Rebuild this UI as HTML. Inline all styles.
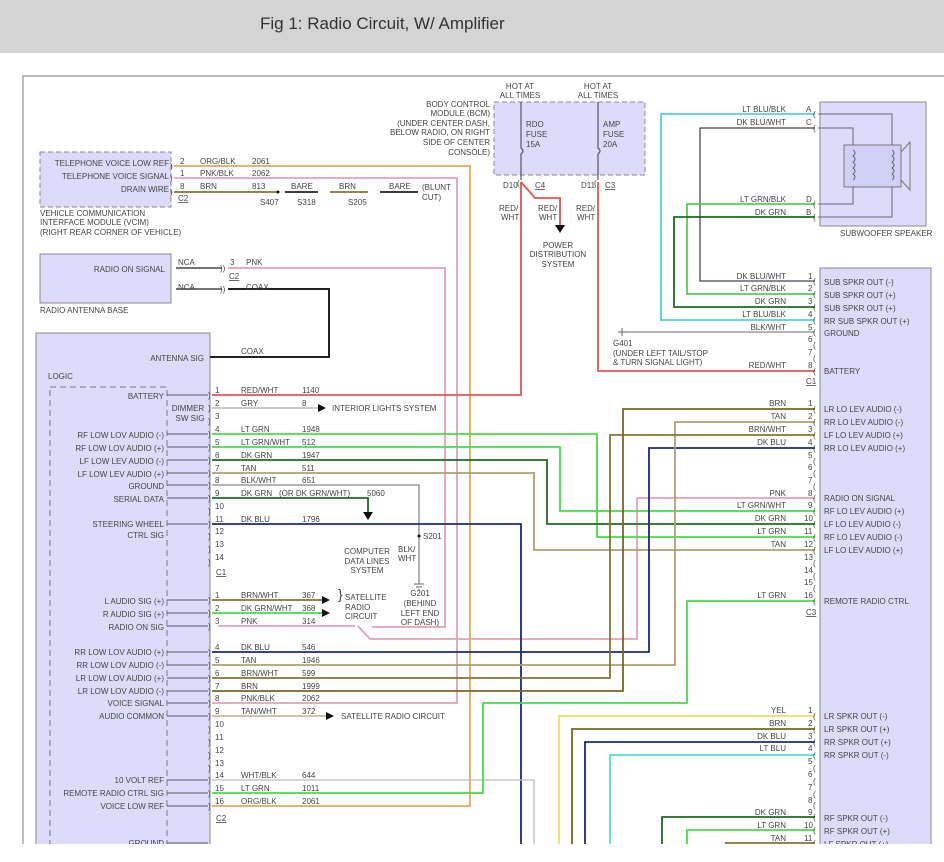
<!DOCTYPE html>
<html><head><meta charset="utf-8"><style>
html,body{margin:0;padding:0;background:#fff;width:944px;height:862px;overflow:hidden}
svg{display:block}
text{font-family:"Liberation Sans",sans-serif;font-size:8px;fill:#444}
.r{text-anchor:end}.m{text-anchor:middle}
.cj{font-size:9px;fill:#556}
</style></head><body>
<svg width="944" height="862" viewBox="0 0 944 862" xmlns="http://www.w3.org/2000/svg">
<defs><clipPath id="cl"><rect x="0" y="0" width="944" height="844"/></clipPath></defs>
<rect x="0" y="0" width="944" height="53" fill="#d4d4d4"/>
<text x="260" y="29" style="font-size:17px;fill:#333">Fig 1: Radio Circuit, W/ Amplifier</text>
<g clip-path="url(#cl)">
<path d="M23 844V76H944" fill="none" stroke="#999" stroke-width="1.3"/>

<rect x="40" y="152" width="131" height="55" fill="#dcdcfa" stroke="#888" stroke-dasharray="5,3"/>
<rect x="40" y="254" width="131" height="49" fill="#dcdcfa" stroke="#888"/>
<rect x="36" y="333" width="174" height="530" fill="#dcdcfa" stroke="#888"/>
<path d="M50 390V860M167 390V860M50 387H167" fill="none" stroke="#777" stroke-dasharray="6,4"/>
<rect x="494" y="102" width="151" height="73" fill="#dcdcfa" stroke="#888" stroke-dasharray="5,3"/>
<rect x="820" y="102" width="106" height="124" fill="#dcdcfa" stroke="#888"/>
<rect x="844" y="145" width="57" height="42" fill="#d0d0f6" stroke="#777"/>
<path d="M901 152L910 142V190L901 180" fill="none" stroke="#777"/>
<rect x="820" y="268" width="111" height="600" fill="#dcdcfa" stroke="#888"/>

<g fill="none" stroke="#667" stroke-width="1">
<path d="M818 114H892V145M818 128H853V145M853 187V204H818M892 187V217H818"/>
<path d="M853 150q4 3 0 6q4 3 0 6q4 3 0 6q4 3 0 6q4 3 0 6M892 150q4 3 0 6q4 3 0 6q4 3 0 6q4 3 0 6q4 3 0 6"/>
</g>
<text x="840" y="236">SUBWOOFER SPEAKER</text>

<g fill="none" stroke="#556" stroke-width="1.2">
<path d="M521 102V148q4 3 0 6V180M598 102V148q4 3 0 6V180"/>
</g>
<text x="526" y="127">RDO</text><text x="526" y="137">FUSE</text><text x="526" y="147">15A</text>
<text x="603" y="127">AMP</text><text x="603" y="137">FUSE</text><text x="603" y="147">20A</text>
<text class="m" x="520" y="89">HOT AT</text><text class="m" x="520" y="98">ALL TIMES</text>
<text class="m" x="598" y="89">HOT AT</text><text class="m" x="598" y="98">ALL TIMES</text>
<text class="r" x="490" y="107">BODY CONTROL</text><text class="r" x="490" y="116">MODULE (BCM)</text>
<text class="r" x="490" y="126">(UNDER CENTER DASH,</text><text class="r" x="490" y="135">BELOW RADIO, ON RIGHT</text>
<text class="r" x="490" y="145">SIDE OF CENTER</text><text class="r" x="490" y="155">CONSOLE)</text>
<text x="503" y="188">D10</text><text x="535" y="188" style="text-decoration:underline">C4</text>
<text x="581" y="188">D11</text><text x="605" y="188" style="text-decoration:underline">C3</text>
<text x="499" y="211">RED/</text><text x="501" y="220">WHT</text>
<text x="538" y="211">RED/</text><text x="539" y="220">WHT</text>
<text x="576" y="211">RED/</text><text x="577" y="220">WHT</text>
<text class="m" x="558" y="248">POWER</text><text class="m" x="558" y="257">DISTRIBUTION</text><text class="m" x="558" y="267">SYSTEM</text>

<g fill="none" stroke-width="1.8">
<path d="M174 166H470V806H212" stroke="#e0a860"/>
<path d="M174 178H457V703H212" stroke="#e8a0b0"/>
<path d="M174 192H278M330 192H368" stroke="#8a7230"/>
<path d="M285 192H318M380 192H418" stroke="#222"/>
<path d="M228 268H445V627H372M370 639H637V498H815M218 626H355M358 626L370 639" stroke="#e8a0b0"/>
<path d="M176 268H222M176 289H222" stroke="#222" stroke-width="1.3"/>
<path d="M228 289H329V357H210" stroke="#222" stroke-width="2"/>
<path d="M521 182V395H212" stroke="#e05555"/>
<path d="M598 182V371H815" stroke="#e05555"/>
<path d="M521 182L535 198H560V225" stroke="#e05555"/>
<path d="M212 408H318" stroke="#aaa" stroke-width="1.3"/>
<path d="M212 434H597V537H815" stroke="#44dd44"/>
<path d="M212 447H560V511H815" stroke="#44dd44"/>
<path d="M212 460H547V524H815" stroke="#1f6a1f"/>
<path d="M212 473H534V550H815" stroke="#b0a070"/>
<path d="M212 485H419V578" stroke="#888" stroke-width="1.3"/>
<path d="M212 498H368V512" stroke="#1f6a1f"/>
<path d="M212 524H521V850" stroke="#1a2a7a"/>
<path d="M212 600H322" stroke="#8a7230"/>
<path d="M212 613H322" stroke="#44dd44"/>
<path d="M212 652H649V448H815" stroke="#1a2a7a"/>
<path d="M212 665H675V422H815" stroke="#b0a070"/>
<path d="M212 678H610V435H815" stroke="#8a7230"/>
<path d="M212 691H623V409H815" stroke="#7a6420"/>
<path d="M212 716H326" stroke="#b0a070" stroke-width="1.3"/>
<path d="M212 780H534V850" stroke="#bbb" stroke-width="1.3"/>
<path d="M212 793H483V703H687V601H815" stroke="#44dd44"/>
<path d="M815 114H661V320H815" stroke="#55d0d0"/>
<path d="M815 128H700V281H815" stroke="#445" stroke-width="1.3"/>
<path d="M815 204H687V294H815" stroke="#55cc55"/>
<path d="M815 217H674V307H815" stroke="#1f6a1f"/>
<path d="M625 332H815" stroke="#888" stroke-width="1.3"/>
<path d="M815 716H559V850" stroke="#f0e060"/>
<path d="M815 729H572V850" stroke="#7a6420"/>
<path d="M815 742H585V850" stroke="#1a2a7a"/>
<path d="M815 755H610V850" stroke="#55dddd"/>
<path d="M815 817H662V850" stroke="#1f6a1f"/>
<path d="M815 830H687V850" stroke="#44dd44"/>
<path d="M815 843H725" stroke="#8a7230"/>
</g>
<g fill="#111">
<path d="M555 225H565L560 233Z"/>
<path d="M318 404V412L326 408Z"/>
<path d="M363 512H373L368 520Z"/>
<path d="M322 596V604L330 600Z"/><path d="M322 609V617L330 613Z"/>
<path d="M326 712V720L334 716Z"/>
</g>
<circle cx="278" cy="192" r="1.5" fill="#111"/><circle cx="419" cy="536" r="1.5" fill="#111"/>
<path d="M419 578V584M414 584H424M416 587H422M418 590H420" stroke="#666"/>
<path d="M622 328V336M618 332H626" stroke="#666"/>

<!-- connector glyphs -->
<g class="cj">
<text x="170" y="169">)</text><text x="170" y="181">)</text><text x="170" y="195">)</text>
<text x="220" y="271">))</text><text x="220" y="292">))</text>
<text x="517" y="186">(</text><text x="594" y="186">(</text>
<text x="208" y="398">)</text><text x="208" y="411">)</text><text x="208" y="424">)</text><text x="208" y="437">)</text><text x="208" y="450">)</text><text x="208" y="463">)</text><text x="208" y="476">)</text><text x="208" y="488">)</text><text x="208" y="501">)</text><text x="208" y="514">)</text><text x="208" y="527">)</text><text x="208" y="539">)</text><text x="208" y="552">)</text><text x="208" y="565">)</text>
<text x="208" y="603">)</text><text x="208" y="616">)</text><text x="208" y="629">)</text><text x="208" y="655">)</text><text x="208" y="668">)</text><text x="208" y="681">)</text><text x="208" y="694">)</text><text x="208" y="706">)</text><text x="208" y="719">)</text><text x="208" y="732">)</text><text x="208" y="745">)</text><text x="208" y="758">)</text><text x="208" y="771">)</text><text x="208" y="783">)</text><text x="208" y="796">)</text><text x="208" y="809">)</text>
<text x="813" y="117">(</text><text x="813" y="131">(</text><text x="813" y="207">(</text><text x="813" y="220">(</text>
<text x="813" y="284">(</text><text x="813" y="297">(</text><text x="813" y="310">(</text><text x="813" y="323">(</text><text x="813" y="335">(</text><text x="813" y="348">(</text><text x="813" y="361">(</text><text x="813" y="374">(</text>
<text x="813" y="412">(</text><text x="813" y="425">(</text><text x="813" y="438">(</text><text x="813" y="451">(</text><text x="813" y="464">(</text><text x="813" y="476">(</text><text x="813" y="489">(</text><text x="813" y="501">(</text><text x="813" y="514">(</text><text x="813" y="527">(</text><text x="813" y="540">(</text><text x="813" y="553">(</text><text x="813" y="566">(</text><text x="813" y="579">(</text><text x="813" y="591">(</text><text x="813" y="604">(</text>
<text x="813" y="719">(</text><text x="813" y="732">(</text><text x="813" y="745">(</text><text x="813" y="758">(</text><text x="813" y="771">(</text><text x="813" y="784">(</text><text x="813" y="797">(</text><text x="813" y="808">(</text><text x="813" y="820">(</text><text x="813" y="833">(</text><text x="813" y="846">(</text>
</g>

<text x="260" y="205">S407</text><text x="297" y="205">S318</text><text x="348" y="205">S205</text>
<text x="291" y="189">BARE</text><text x="339" y="189">BRN</text><text x="389" y="189">BARE</text>
<text x="422" y="190">(BLUNT</text><text x="422" y="200">CUT)</text>
<text x="180" y="164">2</text><text x="200" y="164">ORG/BLK</text><text x="252" y="164">2061</text>
<text x="180" y="176">1</text><text x="200" y="176">PNK/BLK</text><text x="252" y="176">2062</text>
<text x="180" y="189">8</text><text x="200" y="189">BRN</text><text x="252" y="189">813</text>
<text x="178" y="201" style="text-decoration:underline">C2</text>
<text class="r" x="169" y="166">TELEPHONE VOICE LOW REF</text>
<text class="r" x="169" y="179">TELEPHONE VOICE SIGNAL</text>
<text class="r" x="169" y="192">DRAIN WIRE</text>
<text x="40" y="216">VEHICLE COMMUNICATION</text><text x="40" y="225">INTERFACE MODULE (VCIM)</text><text x="40" y="235">(RIGHT REAR CORNER OF VEHICLE)</text>
<text class="r" x="165" y="272">RADIO ON SIGNAL</text>
<text x="178" y="265">NCA</text><text x="178" y="290">NCA</text>
<text x="230" y="265">3</text><text x="246" y="265">PNK</text>
<text x="229" y="279" style="text-decoration:underline">C2</text>
<text x="246" y="290">COAX</text><text x="241" y="354">COAX</text>
<text x="40" y="313">RADIO ANTENNA BASE</text>
<text class="r" x="204" y="361">ANTENNA SIG</text>
<text x="48" y="379">LOGIC</text>

<g>
<text class="r" x="164" y="399">BATTERY</text>
<text class="m" x="188" y="411">DIMMER</text><text class="m" x="190" y="421">SW SIG</text>
<text class="r" x="164" y="438">RF LOW LOV AUDIO (-)</text>
<text class="r" x="164" y="451">RF LOW LOV AUDIO (+)</text>
<text class="r" x="164" y="464">LF LOW LEV AUDIO (-)</text>
<text class="r" x="164" y="477">LF LOW LEV AUDIO (+)</text>
<text class="r" x="164" y="489">GROUND</text>
<text class="r" x="164" y="502">SERIAL DATA</text>
<text class="r" x="164" y="527">STEERING WHEEL</text>
<text class="r" x="164" y="538">CTRL SIG</text>
<text class="r" x="164" y="604">L AUDIO SIG (+)</text>
<text class="r" x="164" y="617">R AUDIO SIG (+)</text>
<text class="r" x="164" y="630">RADIO ON SIG</text>
<text class="r" x="164" y="655">RR LOW LOV AUDIO (+)</text>
<text class="r" x="164" y="668">RR LOW LOV AUDIO (-)</text>
<text class="r" x="164" y="681">LR LOW LOV AUDIO (+)</text>
<text class="r" x="164" y="694">LR LOW LOV AUDIO (-)</text>
<text class="r" x="164" y="706">VOICE SIGNAL</text>
<text class="r" x="164" y="719">AUDIO COMMON</text>
<text class="r" x="164" y="783">10 VOLT REF</text>
<text class="r" x="164" y="796">REMOTE RADIO CTRL SIG</text>
<text class="r" x="164" y="809">VOICE LOW REF</text>
<text class="r" x="164" y="846">GROUND</text>
</g>
<g stroke="#556" stroke-width="1">
<path d="M167 395H208M167 434H208M167 447H208M167 460H208M167 473H208M167 485H208M167 498H208M167 524H208M167 600H208M167 613H208M167 626H208M167 652H208M167 665H208M167 678H208M167 691H208M167 703H208M167 716H208M167 780H208M167 793H208M167 806H208M167 843H208"/>
</g>
<g>
<text x="215" y="393">1</text><text x="241" y="393">RED/WHT</text><text x="302" y="393">1140</text>
<text x="215" y="406">2</text><text x="241" y="406">GRY</text><text x="302" y="406">8</text>
<text x="332" y="411">INTERIOR LIGHTS SYSTEM</text>
<text x="215" y="419">3</text>
<text x="215" y="432">4</text><text x="241" y="432">LT GRN</text><text x="302" y="432">1948</text>
<text x="215" y="445">5</text><text x="241" y="445">LT GRN/WHT</text><text x="302" y="445">512</text>
<text x="215" y="458">6</text><text x="241" y="458">DK GRN</text><text x="302" y="458">1947</text>
<text x="215" y="471">7</text><text x="241" y="471">TAN</text><text x="302" y="471">511</text>
<text x="215" y="483">8</text><text x="241" y="483">BLK/WHT</text><text x="302" y="483">651</text>
<text x="215" y="496">9</text><text x="241" y="496">DK GRN</text><text x="279" y="496">(OR DK GRN/WHT)</text><text x="367" y="496">5060</text>
<text x="215" y="509">10</text>
<text x="215" y="522">11</text><text x="241" y="522">DK BLU</text><text x="302" y="522">1796</text>
<text x="215" y="534">12</text><text x="215" y="547">13</text><text x="215" y="560">14</text>
<text x="216" y="575" style="text-decoration:underline">C1</text>
<text class="m" x="367" y="554">COMPUTER</text><text class="m" x="367" y="564">DATA LINES</text><text class="m" x="367" y="573">SYSTEM</text>
<text x="423" y="539">S201</text>
<text x="398" y="552">BLK/</text><text x="398" y="561">WHT</text>
<text class="m" x="420" y="596">G201</text><text class="m" x="420" y="606">(BEHIND</text><text class="m" x="420" y="616">LEFT END</text><text class="m" x="420" y="625">OF DASH)</text>
<text x="215" y="598">1</text><text x="241" y="598">BRN/WHT</text><text x="302" y="598">367</text>
<text x="215" y="611">2</text><text x="241" y="611">DK GRN/WHT</text><text x="302" y="611">368</text>
<text x="215" y="624">3</text><text x="241" y="624">PNK</text><text x="302" y="624">314</text>
<text x="338" y="599" style="font-size:14px">}</text>
<text x="345" y="600">SATELLITE</text><text x="345" y="610">RADIO</text><text x="345" y="619">CIRCUIT</text>
<text x="215" y="650">4</text><text x="241" y="650">DK BLU</text><text x="302" y="650">546</text>
<text x="215" y="663">5</text><text x="241" y="663">TAN</text><text x="302" y="663">1946</text>
<text x="215" y="676">6</text><text x="241" y="676">BRN/WHT</text><text x="302" y="676">599</text>
<text x="215" y="689">7</text><text x="241" y="689">BRN</text><text x="302" y="689">1999</text>
<text x="215" y="701">8</text><text x="241" y="701">PNK/BLK</text><text x="302" y="701">2062</text>
<text x="215" y="714">9</text><text x="241" y="714">TAN/WHT</text><text x="302" y="714">372</text>
<text x="341" y="719">SATELLITE RADIO CIRCUIT</text>
<text x="215" y="727">10</text><text x="215" y="740">11</text><text x="215" y="753">12</text><text x="215" y="766">13</text>
<text x="215" y="778">14</text><text x="241" y="778">WHT/BLK</text><text x="302" y="778">644</text>
<text x="215" y="791">15</text><text x="241" y="791">LT GRN</text><text x="302" y="791">1011</text>
<text x="215" y="804">16</text><text x="241" y="804">ORG/BLK</text><text x="302" y="804">2061</text>
<text x="216" y="821" style="text-decoration:underline">C2</text>
</g>

<g>
<text class="r" x="786" y="112">LT BLU/BLK</text><text x="806" y="112">A</text>
<text class="r" x="786" y="125">DK BLU/WHT</text><text x="806" y="125">C</text>
<text class="r" x="786" y="202">LT GRN/BLK</text><text x="806" y="202">D</text>
<text class="r" x="786" y="215">DK GRN</text><text x="806" y="215">B</text>
<text class="r" x="786" y="279">DK BLU/WHT</text><text x="808" y="279">1</text>
<text class="r" x="786" y="291">LT GRN/BLK</text><text x="808" y="291">2</text>
<text class="r" x="786" y="304">DK GRN</text><text x="808" y="304">3</text>
<text class="r" x="786" y="317">LT BLU/BLK</text><text x="808" y="317">4</text>
<text class="r" x="786" y="330">BLK/WHT</text><text x="808" y="330">5</text>
<text x="808" y="342">6</text><text x="808" y="355">7</text>
<text class="r" x="786" y="368">RED/WHT</text><text x="808" y="368">8</text>
<text x="806" y="384" style="text-decoration:underline">C1</text>
<text x="824" y="285">SUB SPKR OUT (-)</text>
<text x="824" y="298">SUB SPKR OUT (+)</text>
<text x="824" y="311">SUB SPKR OUT (+)</text>
<text x="824" y="324">RR SUB SPKR OUT (+)</text>
<text x="824" y="336">GROUND</text>
<text x="824" y="374">BATTERY</text>
<text x="613" y="346">G401</text><text x="613" y="356">(UNDER LEFT TAIL/STOP</text><text x="613" y="365">&amp; TURN SIGNAL LIGHT)</text>

<text class="r" x="786" y="406">BRN</text><text x="808" y="406">1</text>
<text class="r" x="786" y="419">TAN</text><text x="808" y="419">2</text>
<text class="r" x="786" y="432">BRN/WHT</text><text x="808" y="432">3</text>
<text class="r" x="786" y="445">DK BLU</text><text x="808" y="445">4</text>
<text x="808" y="458">5</text><text x="808" y="470">6</text><text x="808" y="483">7</text>
<text class="r" x="786" y="496">PNK</text><text x="808" y="496">8</text>
<text class="r" x="786" y="508">LT GRN/WHT</text><text x="808" y="508">9</text>
<text class="r" x="786" y="521">DK GRN</text><text x="804" y="521">10</text>
<text class="r" x="786" y="534">LT GRN</text><text x="804" y="534">11</text>
<text class="r" x="786" y="547">TAN</text><text x="804" y="547">12</text>
<text x="804" y="560">13</text><text x="804" y="573">14</text><text x="804" y="585">15</text>
<text class="r" x="786" y="598">LT GRN</text><text x="804" y="598">16</text>
<text x="806" y="615" style="text-decoration:underline">C3</text>
<text x="824" y="412">LR LO LEV AUDIO (-)</text>
<text x="824" y="425">RR LO LEV AUDIO (-)</text>
<text x="824" y="438">LF LO LEV AUDIO (+)</text>
<text x="824" y="451">RR LO LEV AUDIO (+)</text>
<text x="824" y="501">RADIO ON SIGNAL</text>
<text x="824" y="514">RF LO LEV AUDIO (+)</text>
<text x="824" y="527">LF LO LEV AUDIO (-)</text>
<text x="824" y="540">RF LO LEV AUDIO (-)</text>
<text x="824" y="553">LF LO LEV AUDIO (+)</text>
<text x="824" y="604">REMOTE RADIO CTRL</text>

<text class="r" x="786" y="713">YEL</text><text x="808" y="713">1</text>
<text class="r" x="786" y="726">BRN</text><text x="808" y="726">2</text>
<text class="r" x="786" y="739">DK BLU</text><text x="808" y="739">3</text>
<text class="r" x="786" y="751">LT BLU</text><text x="808" y="751">4</text>
<text x="808" y="764">5</text><text x="808" y="777">6</text><text x="808" y="790">7</text><text x="808" y="803">8</text>
<text class="r" x="786" y="815">DK GRN</text><text x="808" y="815">9</text>
<text class="r" x="786" y="828">LT GRN</text><text x="804" y="828">10</text>
<text class="r" x="786" y="841">TAN</text><text x="804" y="841">11</text>
<text x="824" y="719">LR SPKR OUT (-)</text>
<text x="824" y="732">LR SPKR OUT (+)</text>
<text x="824" y="745">RR SPKR OUT (+)</text>
<text x="824" y="758">RR SPKR OUT (-)</text>
<text x="824" y="821">RF SPKR OUT (-)</text>
<text x="824" y="834">RF SPKR OUT (+)</text>
<text x="824" y="847">LF SPKR OUT (+)</text>
</g>
</g>
</svg>
</body></html>
